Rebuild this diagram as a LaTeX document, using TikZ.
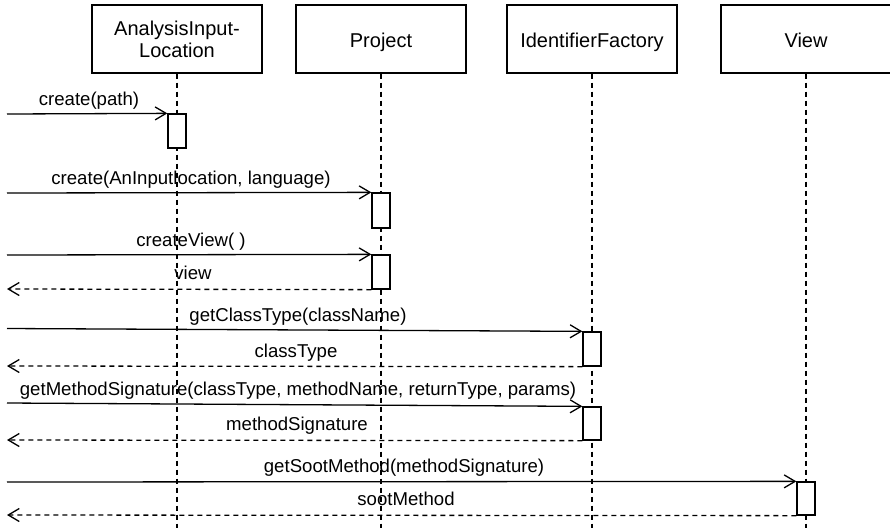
\documentclass[tikz,border=0pt]{standalone}
\usepackage{fontspec}
\setmainfont{Liberation Sans}
\usetikzlibrary{arrows.meta}
\tikzset{
  head/.style={draw, line width=1.3pt, minimum width=170pt, minimum height=68pt, inner sep=0pt, align=center, font=\fontsize{20}{22}\selectfont},
  head1/.style={head, text height=20pt, text depth=4pt},
  life/.style={line width=1.3pt, dash pattern=on 5pt off 4pt},
  actbar/.style={draw, fill=white, line width=1.3pt, minimum width=18pt, inner sep=0pt},
  msg/.style={line width=1.3pt, -{Straight Barb[length=11pt,width=13pt,line width=1.3pt]}},
  ret/.style={line width=1.3pt, dash pattern=on 5pt off 4pt, -{Straight Barb[length=11pt,width=13pt,line width=1.3pt]}},
  lbl/.style={anchor=base, inner sep=0pt, font=\fontsize{18.6}{22}\selectfont}
}
\begin{document}
\begin{tikzpicture}[x=1pt,y=-1pt]
\useasboundingbox (0,0) rectangle (890,528);
% headers
\node[head] (a) at (177,39) {AnalysisInput-\\Location};
\node[head1] (p) at (381,39) {Project};
\node[head1] (f) at (592,39) {IdentifierFactory};
\node[head1] (v) at (806,39) {View};
% lifeline ends
\coordinate (ae) at (177,528);
\coordinate (pe) at (381,528);
\coordinate (fe) at (592,528);
\coordinate (ve) at (806,528);
\draw[life] (a.south) -- (ae);
\draw[life] (p.south) -- (pe);
\draw[life] (f.south) -- (fe);
\draw[life] (v.south) -- (ve);
% activation bars
\node[actbar, minimum height=34pt] (b1) at (177,131) {};
\node[actbar, minimum height=35pt] (b2) at (381,210.5) {};
\node[actbar, minimum height=34pt] (b3) at (381,272) {};
\node[actbar, minimum height=34pt] (b4) at (592,349) {};
\node[actbar, minimum height=33pt] (b5) at (592,423.5) {};
\node[actbar, minimum height=33pt] (b6) at (806,498.5) {};
% free ends
\coordinate (s1) at (7,114);
\coordinate (s2) at (7,193);
\coordinate (s3) at (7,255);
\coordinate (r3) at (7,289);
\coordinate (s4) at (7,328.5);
\coordinate (r4) at (7,366);
\coordinate (s5) at (7,403);
\coordinate (r5) at (7,440);
\coordinate (s6) at (7,482);
\coordinate (r6) at (7,515);
% messages
\draw[msg] (s1) -- (b1.north west);
\draw[msg] (s2) -- (b2.north west);
\draw[msg] (s3) -- (b3.north west);
\draw[ret] (b3.south west) -- (r3);
\draw[msg] (s4) -- (b4.north west);
\draw[ret] (b4.south west) -- (r4);
\draw[msg] (s5) -- (b5.north west);
\draw[ret] (b5.south west) -- (r5);
\draw[msg] (s6) -- (b6.north west);
\draw[ret] (b6.south west) -- (r6);
% labels
\node[lbl] (l1) at (89,105) {create(path)};
\node[lbl] (l2) at (191,184) {create(AnInputlocation, language)};
\node[lbl] (l3) at (191,246) {createView( )};
\node[lbl] (l4) at (193,279) {view};
\node[lbl] (l5) at (298,321) {getClassType(className)};
\node[lbl] (l6) at (296,357) {classType};
\node[lbl] (l7) at (298,395) {getMethodSignature(classType, methodName, returnType, params)};
\node[lbl] (l8) at (297,430) {methodSignature};
\node[lbl] (l9) at (404,472) {getSootMethod(methodSignature)};
\node[lbl] (l10) at (406,505) {sootMethod};
\end{tikzpicture}
\end{document}
